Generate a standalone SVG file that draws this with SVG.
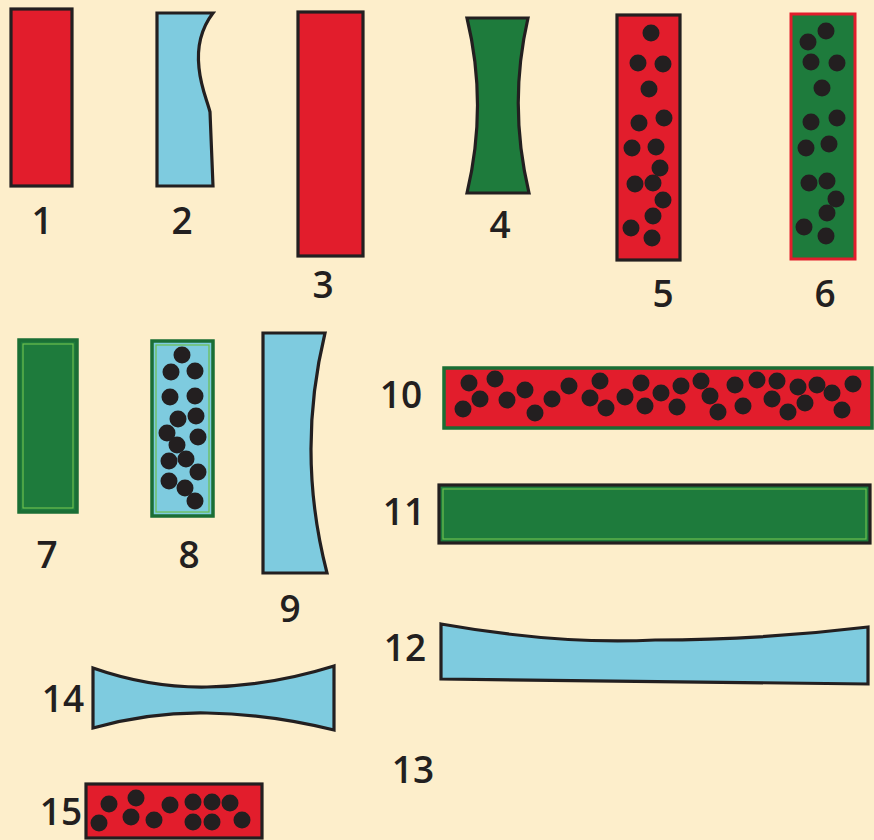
<svg xmlns="http://www.w3.org/2000/svg" width="874" height="840" viewBox="0 0 874 840">
<defs>
<style>
.bg{fill:#fdeecb}
.red{fill:#e21d2c}
.blue{fill:#7ecbdf}
.green{fill:#1e7b3c}
.dk{stroke:#231f20;stroke-width:3.2;stroke-linejoin:miter}
.gs{stroke:#1a6e35;stroke-width:3.5}
.rs{stroke:#e21d2c;stroke-width:3}
.inner{fill:none;stroke:#6cbf4e;stroke-width:1.2}
.dot{fill:#231f20}
.lbl{font-family:"Open Sans","Liberation Sans",sans-serif;font-size:37px;font-weight:600;fill:#231f20;text-anchor:middle}
</style>
</defs>
<rect class="bg" x="0" y="0" width="874" height="840"/>

<g id="n1">
<rect class="red dk" x="11" y="9" width="61" height="177"/>
<text class="lbl" x="42" y="234">1</text>
</g>

<g id="n2">
<path class="blue dk" d="M157,13 L213,13 C200,30 197,50 199,68 C201,88 207,100 210,112 L213,186 L157,186 Z"/>
<text class="lbl" x="182" y="234">2</text>
</g>

<g id="n3">
<rect class="red dk" x="298" y="12" width="65" height="244"/>
<text class="lbl" x="323" y="298">3</text>
</g>

<g id="n4">
<path class="green dk" d="M467,18 L528,18 Q508,105 529,193 L467,193 Q488,105 467,18 Z"/>
<text class="lbl" x="500" y="238">4</text>
</g>

<g id="n5">
<rect class="red dk" x="617" y="15" width="63" height="245"/>
<g class="dot">
<circle cx="651" cy="33" r="8.5"/><circle cx="638" cy="63" r="8.5"/><circle cx="663" cy="64" r="8.5"/>
<circle cx="649" cy="89" r="8.5"/><circle cx="639" cy="123" r="8.5"/><circle cx="664" cy="118" r="8.5"/>
<circle cx="632" cy="148" r="8.5"/><circle cx="656" cy="147" r="8.5"/><circle cx="660" cy="168" r="8.5"/>
<circle cx="635" cy="184" r="8.5"/><circle cx="653" cy="183" r="8.5"/><circle cx="663" cy="200" r="8.5"/>
<circle cx="653" cy="216" r="8.5"/><circle cx="631" cy="228" r="8.5"/><circle cx="652" cy="238" r="8.5"/>
</g>
<text class="lbl" x="663" y="307">5</text>
</g>

<g id="n6">
<rect class="green rs" x="791" y="14" width="64" height="245"/>
<g class="dot">
<circle cx="826" cy="31" r="8.5"/><circle cx="808" cy="42" r="8.5"/><circle cx="811" cy="62" r="8.5"/>
<circle cx="837" cy="63" r="8.5"/><circle cx="822" cy="88" r="8.5"/><circle cx="811" cy="122" r="8.5"/>
<circle cx="837" cy="118" r="8.5"/><circle cx="806" cy="148" r="8.5"/><circle cx="829" cy="144" r="8.5"/>
<circle cx="809" cy="183" r="8.5"/><circle cx="827" cy="181" r="8.5"/><circle cx="836" cy="199" r="8.5"/>
<circle cx="827" cy="213" r="8.5"/><circle cx="804" cy="227" r="8.5"/><circle cx="826" cy="236" r="8.5"/>
</g>
<text class="lbl" x="825" y="307">6</text>
</g>

<g id="n7">
<rect class="green gs" x="19" y="340" width="58" height="172"/>
<rect class="inner" x="23" y="344" width="50" height="164"/>
<text class="lbl" x="47" y="568">7</text>
</g>

<g id="n8">
<rect class="blue gs" x="152" y="341" width="61" height="175"/>
<rect class="inner" x="156" y="345" width="53" height="167"/>
<g class="dot">
<circle cx="182" cy="355" r="8.5"/><circle cx="171" cy="372" r="8.5"/><circle cx="195" cy="371" r="8.5"/>
<circle cx="170" cy="397" r="8.5"/><circle cx="195" cy="396" r="8.5"/><circle cx="178" cy="419" r="8.5"/>
<circle cx="196" cy="416" r="8.5"/><circle cx="167" cy="433" r="8.5"/><circle cx="198" cy="437" r="8.5"/>
<circle cx="177" cy="445" r="8.5"/><circle cx="169" cy="461" r="8.5"/><circle cx="186" cy="459" r="8.5"/>
<circle cx="198" cy="472" r="8.5"/><circle cx="169" cy="481" r="8.5"/><circle cx="185" cy="488" r="8.5"/>
<circle cx="195" cy="501" r="8.5"/>
</g>
<text class="lbl" x="189" y="568">8</text>
</g>

<g id="n9">
<path class="blue dk" d="M263,333 L325,333 Q296,453 327,573 L263,573 Z"/>
<text class="lbl" x="290" y="622">9</text>
</g>

<g id="n10">
<rect class="red gs" x="444" y="368" width="428" height="60"/>
<g class="dot">
<circle cx="469" cy="383" r="8.5"/><circle cx="495" cy="379" r="8.5"/><circle cx="480" cy="399" r="8.5"/>
<circle cx="463" cy="409" r="8.5"/><circle cx="507" cy="400" r="8.5"/><circle cx="525" cy="390" r="8.5"/>
<circle cx="535" cy="413" r="8.5"/><circle cx="552" cy="399" r="8.5"/><circle cx="569" cy="386" r="8.5"/>
<circle cx="600" cy="381" r="8.5"/><circle cx="590" cy="398" r="8.5"/><circle cx="606" cy="408" r="8.5"/>
<circle cx="625" cy="397" r="8.5"/><circle cx="641" cy="383" r="8.5"/><circle cx="645" cy="406" r="8.5"/>
<circle cx="661" cy="393" r="8.5"/><circle cx="681" cy="386" r="8.5"/><circle cx="677" cy="407" r="8.5"/>
<circle cx="701" cy="381" r="8.5"/><circle cx="710" cy="396" r="8.5"/><circle cx="718" cy="412" r="8.5"/>
<circle cx="735" cy="385" r="8.5"/><circle cx="743" cy="406" r="8.5"/><circle cx="757" cy="380" r="8.5"/>
<circle cx="777" cy="381" r="8.5"/><circle cx="772" cy="399" r="8.5"/><circle cx="798" cy="387" r="8.5"/>
<circle cx="805" cy="403" r="8.5"/><circle cx="788" cy="412" r="8.5"/><circle cx="817" cy="385" r="8.5"/>
<circle cx="832" cy="393" r="8.5"/><circle cx="842" cy="410" r="8.5"/><circle cx="853" cy="384" r="8.5"/>
</g>
<text class="lbl" x="401" y="408">10</text>
</g>

<g id="n11">
<rect class="green dk" x="439" y="485" width="431" height="58"/>
<rect class="inner" x="443" y="489" width="423" height="50"/>
<text class="lbl" x="404" y="525">11</text>
</g>

<g id="n12">
<path class="blue dk" d="M441,624 Q560,645 655,640 Q760,640 868,627 L868,684 L441,679 Z"/>
<text class="lbl" x="405" y="661">12</text>
</g>

<g id="n13">
<text class="lbl" x="413" y="783">13</text>
</g>

<g id="n14">
<path class="blue dk" d="M93,668 Q150,688 207,687 Q270,686 334,666 L334,730 Q270,714 207,713 Q150,712 93,728 Z"/>
<text class="lbl" x="63" y="712">14</text>
</g>

<g id="n15">
<rect class="red dk" x="86" y="784" width="176" height="54"/>
<g class="dot">
<circle cx="109" cy="804" r="8.5"/><circle cx="99" cy="823" r="8.5"/><circle cx="136" cy="798" r="8.5"/>
<circle cx="131" cy="817" r="8.5"/><circle cx="154" cy="820" r="8.5"/><circle cx="170" cy="805" r="8.5"/>
<circle cx="193" cy="802" r="8.5"/><circle cx="193" cy="822" r="8.5"/><circle cx="212" cy="802" r="8.5"/>
<circle cx="212" cy="822" r="8.5"/><circle cx="230" cy="803" r="8.5"/><circle cx="242" cy="820" r="8.5"/>
</g>
<text class="lbl" x="61" y="825">15</text>
</g>

<g id="connectors"></g>
</svg>
